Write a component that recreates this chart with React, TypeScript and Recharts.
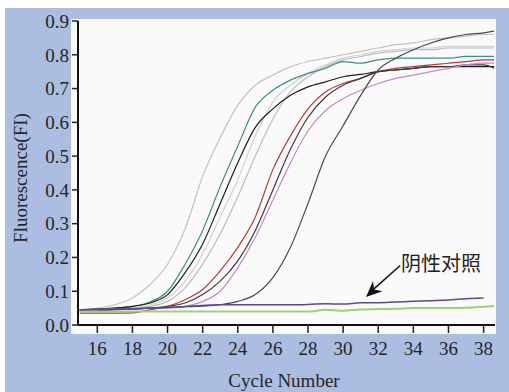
import { LineChart, Line, XAxis, YAxis, ReferenceLine, ReferenceDot, Label } from "recharts";

// cycle numbers (last point is the run's final read)
const cycles = [15, 16, 17, 18, 19, 20, 21, 22, 23, 24, 25, 26, 27, 28, 29, 30, 31, 32, 33, 34, 35, 36, 37, 38, 38.6];

const curveA = [0.045, 0.05, 0.06, 0.08, 0.12, 0.18, 0.285, 0.44, 0.555, 0.65, 0.71, 0.74, 0.765, 0.78, 0.79, 0.8, 0.81, 0.82, 0.83, 0.835, 0.845, 0.85, 0.855, 0.86, 0.86];
const curveB = [0.045, 0.048, 0.05, 0.055, 0.068, 0.1, 0.18, 0.28, 0.41, 0.53, 0.645, 0.695, 0.725, 0.745, 0.76, 0.78, 0.775, 0.785, 0.79, 0.79, 0.79, 0.79, 0.795, 0.795, 0.795];
const curveC = [0.045, 0.047, 0.05, 0.055, 0.065, 0.09, 0.155, 0.24, 0.36, 0.48, 0.585, 0.64, 0.68, 0.705, 0.72, 0.735, 0.742, 0.75, 0.755, 0.76, 0.765, 0.765, 0.765, 0.765, 0.765];
const curveD = [0.045, 0.046, 0.048, 0.05, 0.06, 0.08, 0.13, 0.21, 0.32, 0.43, 0.56, 0.66, 0.71, 0.745, 0.77, 0.79, 0.8, 0.81, 0.815, 0.82, 0.82, 0.825, 0.825, 0.825, 0.825];
const curveE = [0.045, 0.046, 0.047, 0.05, 0.055, 0.07, 0.11, 0.18, 0.27, 0.38, 0.5, 0.61, 0.69, 0.735, 0.765, 0.785, 0.795, 0.805, 0.81, 0.815, 0.815, 0.82, 0.82, 0.82, 0.82];
const curveF = [0.035, 0.035, 0.035, 0.036, 0.045, 0.055, 0.075, 0.105, 0.16, 0.23, 0.32, 0.46, 0.56, 0.64, 0.69, 0.715, 0.73, 0.75, 0.76, 0.765, 0.77, 0.775, 0.78, 0.785, 0.785];
const curveG = [0.04, 0.042, 0.045, 0.047, 0.05, 0.055, 0.065, 0.09, 0.13, 0.19, 0.28, 0.4, 0.52, 0.615, 0.675, 0.71, 0.73, 0.75, 0.755, 0.76, 0.765, 0.765, 0.77, 0.77, 0.76];
const curveH = [0.045, 0.046, 0.047, 0.048, 0.05, 0.05, 0.055, 0.07, 0.1, 0.17, 0.26, 0.37, 0.48, 0.575, 0.635, 0.67, 0.695, 0.715, 0.73, 0.74, 0.75, 0.76, 0.77, 0.775, 0.775];
const curveI = [0.045, 0.046, 0.047, 0.048, 0.05, 0.052, 0.054, 0.056, 0.06, 0.07, 0.09, 0.14, 0.23, 0.36, 0.5, 0.59, 0.68, 0.755, 0.79, 0.815, 0.835, 0.85, 0.86, 0.865, 0.87];
// negative controls
const negPurple = [0.045, 0.046, 0.047, 0.048, 0.05, 0.052, 0.055, 0.058, 0.06, 0.06, 0.06, 0.06, 0.06, 0.061, 0.063, 0.062, 0.066, 0.066, 0.068, 0.07, 0.072, 0.074, 0.078, 0.08, null];
const negGreen = [0.04, 0.04, 0.04, 0.04, 0.04, 0.04, 0.04, 0.04, 0.04, 0.04, 0.04, 0.04, 0.04, 0.04, 0.045, 0.042, 0.046, 0.047, 0.048, 0.05, 0.05, 0.05, 0.051, 0.054, 0.056];

const xTicks = [16, 18, 20, 22, 24, 26, 28, 30, 32, 34, 36, 38];
const yTicks = [0, 0.1, 0.2, 0.3, 0.4, 0.5, 0.6, 0.7, 0.8, 0.9];

const SERIES: { key: string; values: (number | null)[]; color: string; width: number }[] = [
  { key: "a", values: curveA, color: "#c9bfbf", width: 1.2 },
  { key: "d", values: curveD, color: "#d2d2d2", width: 1.2 },
  { key: "e", values: curveE, color: "#bcbcbc", width: 1.2 },
  { key: "b", values: curveB, color: "#3f8f8f", width: 1.2 },
  { key: "c", values: curveC, color: "#1e1e1e", width: 1.2 },
  { key: "f", values: curveF, color: "#b83a3a", width: 1.2 },
  { key: "g", values: curveG, color: "#3a3a3a", width: 1.2 },
  { key: "h", values: curveH, color: "#c28ac8", width: 1.2 },
  { key: "i", values: curveI, color: "#4a4a4a", width: 1.2 },
  { key: "negGreen", values: negGreen, color: "#9ad27a", width: 2 },
  { key: "negPurple", values: negPurple, color: "#5a4a90", width: 1.5 },
];

const data = cycles.map((cycle, i) => {
  const row: Record<string, number | null> = { cycle };
  for (const s of SERIES) row[s.key] = s.values[i];
  return row;
});

const FONT = "'Liberation Serif', 'DejaVu Serif', serif";
const TEXT_COLOR = "#262626";

function XTick({ x, y, payload }: any) {
  return (
    <text x={x} y={y} dy="0.71em" textAnchor="middle" fontSize={19} fill={TEXT_COLOR} style={{ fontFamily: FONT }}>
      {payload.value}
    </text>
  );
}

function YTick({ x, y, payload }: any) {
  return (
    <text x={x} y={y} dy="0.355em" textAnchor="end" fontSize={19} fill={TEXT_COLOR} style={{ fontFamily: FONT }}>
      {Number(payload.value).toFixed(1)}
    </text>
  );
}

export default function App() {
  return (
    <div style={{ position: "absolute", left: 0, top: 0, width: 509, height: 392, background: "#fff", fontFamily: FONT }}>
      <div style={{ position: "absolute", left: 5, top: 8, width: 504, height: 384, background: "#abbde0" }} />
      <div style={{ position: "absolute", left: 71, top: 19, width: 425, height: 315, background: "#fafafa" }} />
      <div style={{ position: "absolute", left: 0, top: 0 }}>
        <LineChart width={509} height={392} data={data} margin={{ top: 21, right: 14, bottom: 37, left: 18 }}>
          <XAxis
            dataKey="cycle"
            type="number"
            domain={[14.9, 38.65]}
            allowDataOverflow
            ticks={xTicks}
            tick={<XTick />}
            tickSize={8}
            tickMargin={9}
            height={30}
            axisLine={{ stroke: "#111", strokeWidth: 2 }}
            tickLine={{ stroke: "#222", strokeWidth: 1.5 }}
          >
            <Label
              content={() => (
                <text x={284} y={387} textAnchor="middle" fontSize={19} style={{ fontFamily: FONT }} fill={TEXT_COLOR}>
                  Cycle Number
                </text>
              )}
            />
          </XAxis>
          <YAxis
            type="number"
            domain={[0, 0.9]}
            ticks={yTicks}
            tick={<YTick />}
            tickSize={6}
            tickMargin={3}
            width={60}
            axisLine={{ stroke: "#111", strokeWidth: 2 }}
            tickLine={{ stroke: "#222", strokeWidth: 1.5 }}
          >
            <Label
              content={() => (
                <text
                  x={20}
                  y={178}
                  transform="rotate(-90, 20, 178)"
                  textAnchor="middle"
                  dominantBaseline="central"
                  fontSize={19}
                  style={{ fontFamily: FONT }}
                  fill={TEXT_COLOR}
                >
                  Fluorescence(FI)
                </text>
              )}
            />
          </YAxis>
          {SERIES.map((s) => (
            <Line
              key={s.key}
              type="monotone"
              dataKey={s.key}
              stroke={s.color}
              strokeWidth={s.width}
              dot={false}
              isAnimationActive={false}
            />
          ))}
          {/* annotation for the negative control */}
          <ReferenceLine
            segment={[{ x: 33.25, y: 0.176 }, { x: 31.5, y: 0.095 }]}
            stroke="#111"
            strokeWidth={1.5}
            ifOverflow="visible"
          />
          <ReferenceDot
            x={31.3}
            y={0.083}
            ifOverflow="visible"
            shape={(p: any) => (
              <polygon
                points="0,0 -16,-7 -11,0 -16,7"
                fill="#111"
                transform={`translate(${p.cx},${p.cy}) rotate(137.6)`}
              />
            )}
          />
          <ReferenceDot
            x={33.3}
            y={0.184}
            ifOverflow="visible"
            shape={(p: any) => (
              <text
                x={p.cx}
                y={p.cy}
                dominantBaseline="central"
                fontSize={20}
                style={{ fontFamily: "'Noto Sans CJK SC', sans-serif" }}
                fill="#222"
              >
                阴性对照
              </text>
            )}
          />
        </LineChart>
      </div>
    </div>
  );
}
